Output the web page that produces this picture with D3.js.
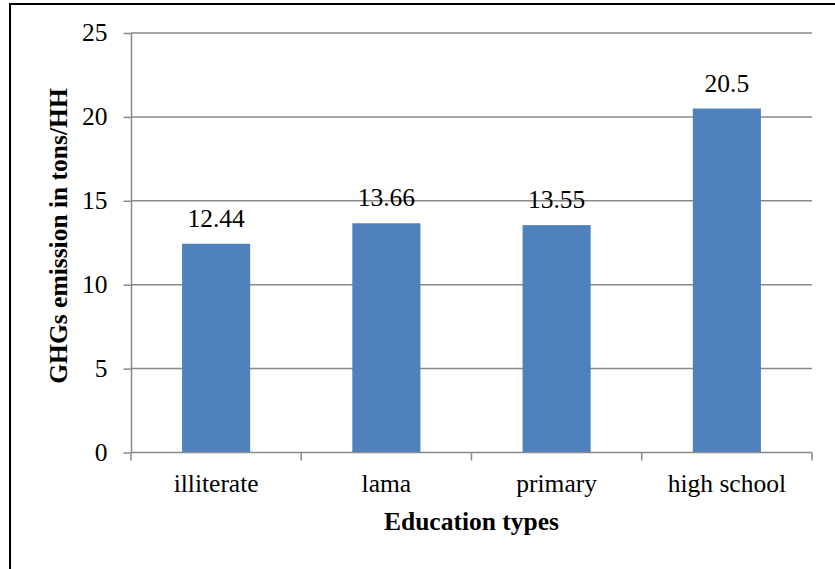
<!DOCTYPE html>
<html>
<head>
<meta charset="utf-8">
<script src="https://cdn.jsdelivr.net/npm/d3@7"></script>
<style>
  html, body { margin: 0; padding: 0; background: #fff; }
  svg { display: block; }
</style>
</head>
<body>
<script>
// Average household GHG emissions by education level of household head
const categories = ["illiterate", "lama", "primary", "high school"];
const emissions = [12.44, 13.66, 13.55, 20.5];
const yTicks = [0, 5, 10, 15, 20, 25];
const xTitle = "Education types";
const yTitle = "GHGs emission in tons/HH";

const W = 835, H = 569;
const margin = { left: 131, right: 835 - 812, top: 33, bottom: 569 - 452.5 };
const font = "'Liberation Serif', 'Times New Roman', serif";
const fs = 25.5;
const gridColor = "#898989";

const svg = d3.select("body").append("svg")
  .attr("width", W).attr("height", H);

// outer frame
svg.append("rect")
  .attr("x", 10).attr("y", 4)
  .attr("width", W + 20).attr("height", H + 20)
  .attr("fill", "none").attr("stroke", "#000").attr("stroke-width", 2);

const x = d3.scaleBand()
  .domain(categories)
  .range([margin.left, W - margin.right])
  .paddingInner(0.6).paddingOuter(0.3);

const xOuter = d3.scaleBand()
  .domain(categories)
  .range([margin.left, W - margin.right]);

const y = d3.scaleLinear()
  .domain([0, 25])
  .range([H - margin.bottom, margin.top]);

// horizontal gridlines
svg.append("g").selectAll("line")
  .data(yTicks.filter(d => d > 0))
  .join("line")
  .attr("x1", margin.left).attr("x2", W - margin.right)
  .attr("y1", d => y(d)).attr("y2", d => y(d))
  .attr("stroke", gridColor).attr("stroke-width", 1.5);

// y axis
const yAxis = svg.append("g")
  .attr("transform", `translate(${margin.left},0)`)
  .call(d3.axisLeft(y).tickValues(yTicks).tickSize(7.5).tickPadding(16).tickSizeOuter(0));
yAxis.select(".domain").attr("stroke", gridColor).attr("stroke-width", 1.5);
yAxis.selectAll(".tick line").attr("stroke", gridColor).attr("stroke-width", 1.5);
yAxis.selectAll(".tick text")
  .attr("font-family", font).attr("font-size", fs).attr("fill", "#000")
  .attr("dy", "0.30em");

// bars
svg.append("g").selectAll("rect")
  .data(emissions)
  .join("rect")
  .attr("x", (d, i) => x(categories[i]))
  .attr("width", x.bandwidth())
  .attr("y", d => y(d))
  .attr("height", d => y(0) - y(d))
  .attr("fill", "#4F81BD");

// value labels
svg.append("g").selectAll("text")
  .data(emissions)
  .join("text")
  .attr("x", (d, i) => x(categories[i]) + x.bandwidth() / 2)
  .attr("y", d => y(d) - 17)
  .attr("text-anchor", "middle")
  .attr("font-family", font).attr("font-size", fs).attr("fill", "#000")
  .text(d => d);

// x axis with ticks at category boundaries
const xg = svg.append("g").attr("transform", `translate(0,${y(0)})`);
xg.append("line")
  .attr("x1", margin.left).attr("x2", W - margin.right)
  .attr("stroke", gridColor).attr("stroke-width", 1.5);
const bounds = categories.map(c => xOuter(c)).concat([W - margin.right]);
xg.selectAll("line.tk")
  .data(bounds)
  .join("line").attr("class", "tk")
  .attr("x1", d => d).attr("x2", d => d)
  .attr("y1", 0).attr("y2", 8)
  .attr("stroke", gridColor).attr("stroke-width", 1.5);
xg.selectAll("text")
  .data(categories)
  .join("text")
  .attr("x", d => xOuter(d) + xOuter.bandwidth() / 2)
  .attr("y", 39)
  .attr("text-anchor", "middle")
  .attr("font-family", font).attr("font-size", fs).attr("fill", "#000")
  .text(d => d);

// axis titles
svg.append("text")
  .attr("x", (margin.left + W - margin.right) / 2)
  .attr("y", 530)
  .attr("text-anchor", "middle")
  .attr("font-family", font).attr("font-size", fs).attr("font-weight", "bold")
  .text(xTitle);

svg.append("text")
  .attr("transform", `translate(67,236) rotate(-90)`)
  .attr("text-anchor", "middle")
  .attr("font-family", font).attr("font-size", fs).attr("font-weight", "bold")
  .text(yTitle);
</script>
</body>
</html>
